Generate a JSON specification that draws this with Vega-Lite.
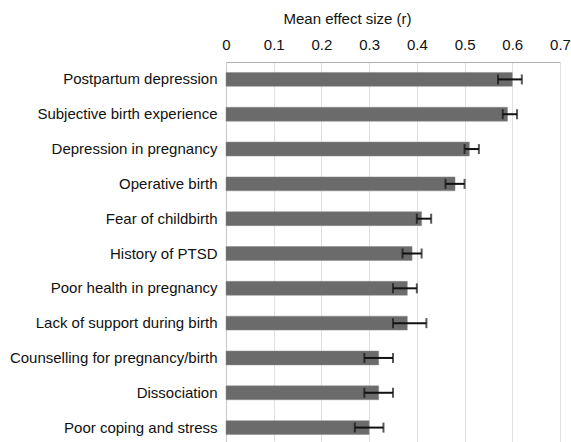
{
  "$schema": "https://vega.github.io/schema/vega-lite/v6.json",
  "width": 334,
  "height": 383,
  "autosize": {"type": "none"},
  "padding": {"left": 226, "top": 62, "right": 11, "bottom": 0},
  "background": "white",
  "data": {
    "values": [
      {"factor": "Postpartum depression", "r": 0.60, "lo": 0.57, "hi": 0.62},
      {"factor": "Subjective birth experience", "r": 0.59, "lo": 0.58, "hi": 0.61},
      {"factor": "Depression in pregnancy", "r": 0.51, "lo": 0.50, "hi": 0.53},
      {"factor": "Operative birth", "r": 0.48, "lo": 0.46, "hi": 0.50},
      {"factor": "Fear of childbirth", "r": 0.41, "lo": 0.40, "hi": 0.43},
      {"factor": "History of PTSD", "r": 0.39, "lo": 0.37, "hi": 0.41},
      {"factor": "Poor health in pregnancy", "r": 0.38, "lo": 0.35, "hi": 0.40},
      {"factor": "Lack of support during birth", "r": 0.38, "lo": 0.35, "hi": 0.42},
      {"factor": "Counselling for pregnancy/birth", "r": 0.32, "lo": 0.29, "hi": 0.35},
      {"factor": "Dissociation", "r": 0.32, "lo": 0.29, "hi": 0.35},
      {"factor": "Poor coping and stress", "r": 0.30, "lo": 0.27, "hi": 0.33}
    ]
  },
  "config": {
    "view": {"stroke": null},
    "font": "Liberation Sans",
    "axis": {"labelFont": "Liberation Sans", "titleFont": "Liberation Sans"}
  },
  "encoding": {
    "y": {
      "field": "factor",
      "type": "nominal",
      "sort": null,
      "scale": {"paddingInner": 0.6, "paddingOuter": 0.3},
      "axis": {
        "title": null,
        "ticks": false,
        "labelFontSize": 15,
        "labelColor": "#111111",
        "labelPadding": 9,
        "domainColor": "#c8c8c8",
        "labelLimit": 300
      }
    }
  },
  "layer": [
    {
      "mark": {"type": "bar", "color": "#6b6b6b", "stroke": "#8a8a8a", "strokeWidth": 0.5},
      "encoding": {
        "x": {
          "field": "r",
          "type": "quantitative",
          "scale": {"domain": [0, 0.7], "nice": false},
          "axis": {
            "orient": "top",
            "title": "Mean effect size (r)",
            "titleFontSize": 15,
            "titleFontWeight": "normal",
            "titleColor": "#111111",
            "titleX": 121,
            "titleY": -44,
            "titleAlign": "center",
            "titleBaseline": "middle",
            "values": [0, 0.1, 0.2, 0.3, 0.4, 0.5, 0.6, 0.7],
            "format": "~g",
            "labelFontSize": 15,
            "labelColor": "#111111",
            "labelPadding": 10,
            "ticks": false,
            "grid": true,
            "gridColor": "#e0e0e0",
            "domainColor": "#b0b0b0",
            "labelFlush": false
          }
        }
      }
    },
    {
      "mark": {"type": "rule", "color": "#111111", "strokeWidth": 2},
      "encoding": {
        "x": {"field": "lo", "type": "quantitative"},
        "x2": {"field": "hi"}
      }
    },
    {
      "mark": {"type": "tick", "color": "#111111", "thickness": 2, "size": 10},
      "encoding": {"x": {"field": "lo", "type": "quantitative"}}
    },
    {
      "mark": {"type": "tick", "color": "#111111", "thickness": 2, "size": 10},
      "encoding": {"x": {"field": "hi", "type": "quantitative"}}
    }
  ]
}
